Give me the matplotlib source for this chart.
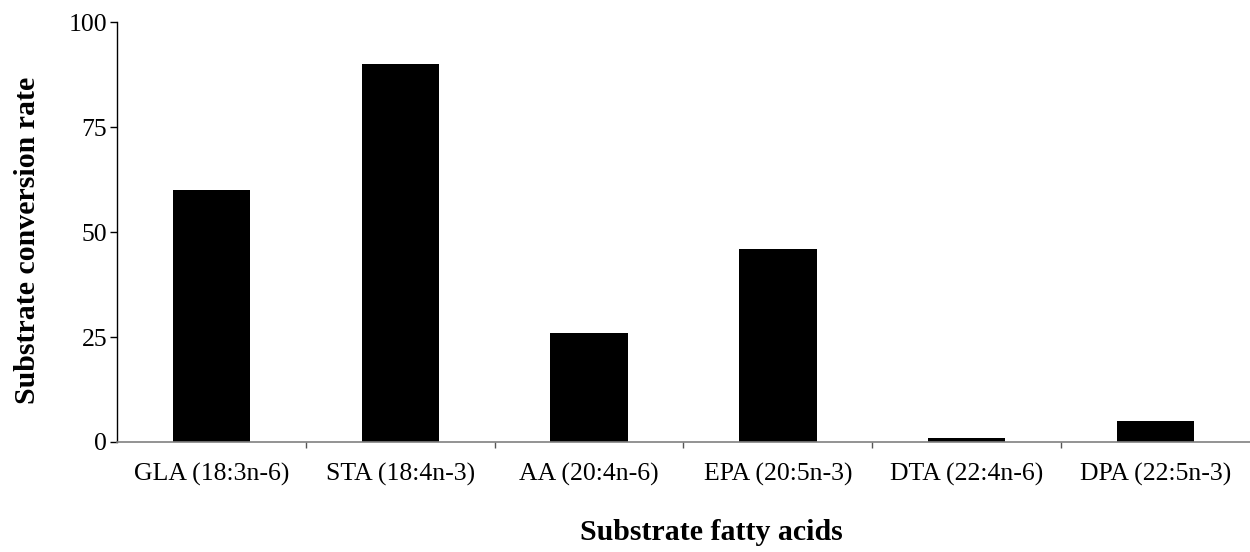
import numpy as np
import matplotlib
matplotlib.use('Agg')
import matplotlib.pyplot as plt

# data
fatty_acids = ["GLA (18:3n-6)", "STA (18:4n-3)", "AA (20:4n-6)",
               "EPA (20:5n-3)", "DTA (22:4n-6)", "DPA (22:5n-3)"]
conversion_rate = [60, 90, 26, 46, 1, 5]
y_ticks = [0, 25, 50, 75, 100]

plt.rcParams['font.family'] = ['Liberation Serif', 'DejaVu Serif']

fig = plt.figure(figsize=(12.5, 5.52), dpi=100)
ax = fig.add_axes([0.0936, 0.1993, 0.9064, 0.7607])

x = np.arange(len(fatty_acids))
ax.bar(x, conversion_rate, width=0.41, color='black')

ax.set_xlim(-0.5, len(fatty_acids) - 0.5)
ax.set_ylim(0, 100)
ax.set_yticks(y_ticks)
ax.tick_params(axis='y', direction='out', length=5, width=1, labelsize=18.5, pad=2)

# category labels centred, tick marks on the boundaries
ax.set_xticks(x)
ax.set_xticklabels(fatty_acids, fontsize=18.5)
ax.tick_params(axis='x', which='major', length=0, pad=15)
ax.set_xticks(np.arange(0.5, len(fatty_acids) - 0.5, 1), minor=True)
ax.tick_params(axis='x', which='minor', direction='out', length=4, width=1, color='#555555')

ax.spines['top'].set_visible(False)
ax.spines['right'].set_visible(False)
ax.spines['bottom'].set_color('#808080')
ax.spines['bottom'].set_linewidth(1.2)
ax.spines['left'].set_linewidth(1)

ax.set_ylabel("Substrate conversion rate", fontsize=21.5, fontweight='bold', va='center')
ax.yaxis.set_label_coords(-0.0794, 0.481)
ax.set_xlabel("Substrate fatty acids", fontsize=21.5, fontweight='bold', va='center')
ax.xaxis.set_label_coords(0.525, -0.215)

fig.savefig('out.png', dpi=100)
